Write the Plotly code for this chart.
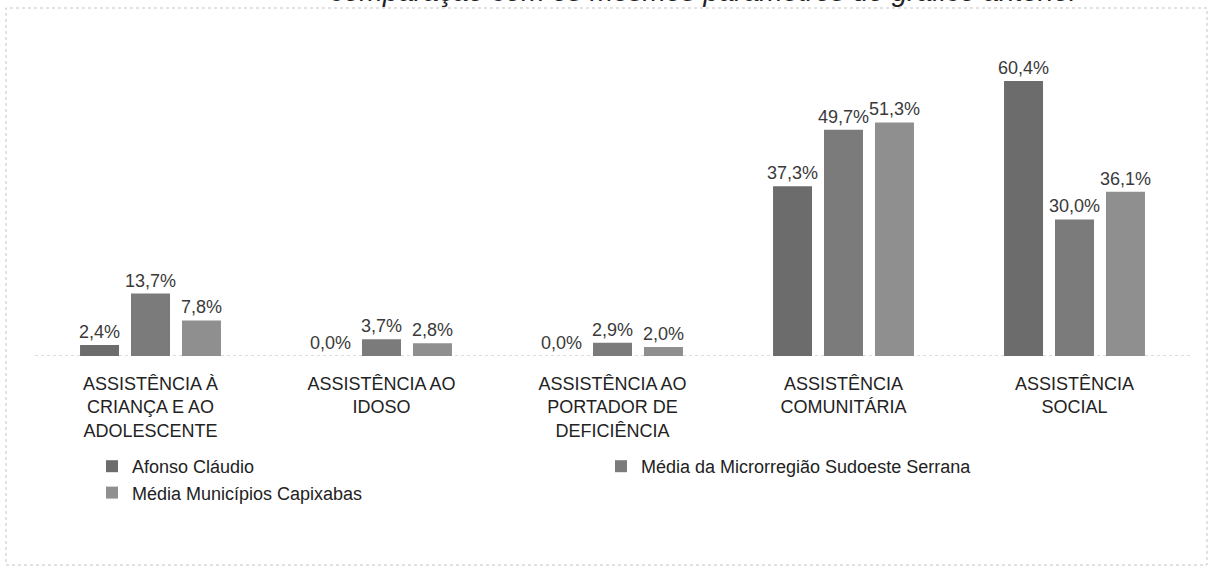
import plotly.graph_objects as go

categories = [
    "ASSISTÊNCIA À<br>CRIANÇA E AO<br>ADOLESCENTE",
    "ASSISTÊNCIA AO<br>IDOSO",
    "ASSISTÊNCIA AO<br>PORTADOR DE<br>DEFICIÊNCIA",
    "ASSISTÊNCIA<br>COMUNITÁRIA",
    "ASSISTÊNCIA<br>SOCIAL",
]
afonso_claudio = [2.4, 0.0, 0.0, 37.3, 60.4]
media_microrregiao = [13.7, 3.7, 2.9, 49.7, 30.0]
media_municipios = [7.8, 2.8, 2.0, 51.3, 36.1]

series_names = [
    "Afonso Cláudio",
    "Média da Microrregião Sudoeste Serrana",
    "Média Municípios Capixabas",
]
series_values = [afonso_claudio, media_microrregiao, media_municipios]
colors = ["#6c6c6c", "#7b7b7b", "#8f8f8f"]

FONT = "Liberation Sans, Arial, sans-serif"

W, H = 1216, 571
ML, MR, MT, MB = 35, 26, 40, 215
PW = W - ML - MR
PH = H - MT - MB


def px_x(px):
    return (px - ML) / PW


def px_y(py):
    return (H - MB - py) / PH


def fmt(v):
    return f"{v:.1f}".replace(".", ",") + "%"


fig = go.Figure()
for name, vals, col in zip(series_names, series_values, colors):
    fig.add_trace(go.Bar(
        x=categories,
        y=vals,
        name=name,
        marker=dict(color=col, line=dict(width=0)),
        text=[fmt(v) for v in vals],
        textposition="outside",
        constraintext="none",
        cliponaxis=False,
        textfont=dict(family=FONT, size=18, color="#3a3a3a"),
    ))

y_top = PH / (275 / 60.4)

fig.update_layout(
    width=W,
    height=H,
    margin=dict(l=ML, r=MR, t=MT, b=MB, autoexpand=False),
    paper_bgcolor="white",
    plot_bgcolor="white",
    barmode="group",
    bargap=0.338,
    bargroupgap=0.235,
    showlegend=True,
    font=dict(family=FONT, color="#222222"),
    xaxis=dict(
        showgrid=False,
        showline=False,
        zeroline=False,
        ticks="",
        tickfont=dict(family=FONT, size=18, color="#222222"),
        ticklabelstandoff=15,
        tickangle=0,
        automargin=False,
    ),
    yaxis=dict(
        range=[0, y_top],
        visible=False,
        showgrid=False,
        zeroline=False,
        fixedrange=True,
    ),
    legend=dict(
        orientation="h",
        x=px_x(92),
        xanchor="left",
        y=px_y(448),
        yanchor="top",
        entrywidth=464,
        entrywidthmode="pixels",
        traceorder="normal",
        font=dict(family=FONT, size=18, color="#222222"),
        bgcolor="rgba(0,0,0,0)",
        itemclick=False,
    ),
    shapes=[
        dict(
            type="rect", xref="paper", yref="paper",
            x0=px_x(6), x1=px_x(1207), y0=px_y(565), y1=px_y(8),
            line=dict(color="#c4c4c4", width=1, dash="dot"),
            fillcolor="rgba(0,0,0,0)", layer="below",
        ),
        dict(
            type="line", xref="paper", yref="y",
            x0=0, x1=1, y0=0, y1=0,
            line=dict(color="#bdbdbd", width=1, dash="dot"),
            layer="below",
        ),
    ],
    annotations=[
        dict(
            text="<i>comparação com os mesmos parâmetros do gráfico anterior</i>",
            xref="paper", yref="paper",
            x=px_x(705), y=px_y(-9),
            xanchor="center", yanchor="middle",
            showarrow=False,
            font=dict(size=28, color="#222222", family=FONT),
        )
    ],
)

fig.write_html(
    "out.html",
    config={"displayModeBar": False},
    post_script="document.body.style.margin='0';document.body.style.overflow='hidden';",
)
